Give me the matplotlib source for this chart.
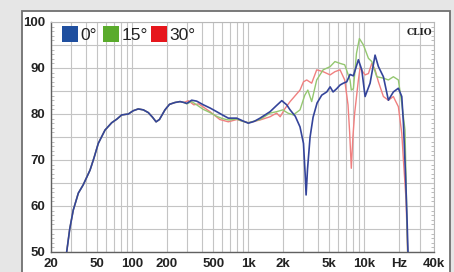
import numpy as np
import matplotlib.pyplot as plt
from matplotlib.patches import Rectangle
from matplotlib.ticker import MultipleLocator, FixedLocator, FuncFormatter

# shared low-frequency part (all three curves overlap)
low_f = [26, 27.3, 29, 31.1, 34.4, 37.9, 43.4, 47, 51.1, 58.4, 66.7, 74, 81.4,
         92.8, 102, 113, 125, 138, 150, 161, 172, 192, 210, 234, 259, 280]
low_db = [47, 50, 55, 59.1, 62.8, 64.6, 67.8, 70.5, 73.6, 76.5, 78.1, 78.9, 79.8,
          80.0, 80.7, 81.1, 80.9, 80.3, 79.3, 78.3, 78.8, 80.9, 82.1, 82.5, 82.7, 82.5]

blue_f = [296, 326, 360, 411, 470, 536, 600, 675, 798, 900, 1004, 1130, 1267, 1545,
          1750, 1950, 2150, 2300, 2550, 2800, 3000, 3100, 3160, 3250, 3420, 3630,
          3930, 4310, 4760, 5090, 5400, 5800, 6200, 6620, 7080, 7560, 8080, 8920,
          9540, 10190, 11250, 12420, 13270, 14650, 16180, 17860, 19720, 21100,
          21800, 22800, 23500, 24000]
blue_db = [82.3, 83.0, 82.8, 82.0, 81.3, 80.5, 79.8, 79.1, 79.1, 78.5, 78.0, 78.4, 79.1, 80.5,
           81.8, 82.9, 82.0, 80.9, 79.5, 77.2, 73.6, 67, 62.4, 68, 75, 79.3,
           82.4, 84.1, 84.8, 85.9, 84.8, 85.5, 86.3, 86.7, 87.0, 88.6, 88.3, 91.8,
           89.6, 83.8, 86.7, 92.8, 90.3, 88.1, 83.0, 84.8, 85.6, 83.8,
           78, 66, 56, 48]

green_f = [296, 326, 360, 411, 470, 536, 600, 675, 798, 900, 1004, 1267, 1545, 1760,
           1990, 2200, 2450, 2800, 3080, 3270, 3530, 3900, 4430, 5090, 5600, 6200,
           6800, 7560, 7750, 8080, 8590, 9100, 9860, 10890, 11640, 12850, 14650,
           16180, 17860, 19720, 21100, 22500, 23400, 23800]
green_db = [82.2, 82.7, 82.0, 81.0, 80.3, 79.5, 79.0, 78.7, 78.9, 78.4, 78.1, 78.8, 80.2, 80.5,
            80.9, 80.2, 79.8, 80.9, 84.1, 85.2, 82.7, 87.4, 89.6, 90.3, 91.4, 91.0,
            90.7, 87.4, 85.2, 85.5, 93.2, 96.4, 95.0, 92.1, 91.4, 88.1, 87.8,
            87.4, 88.1, 87.4, 82.3, 76.5, 56, 48]

red_f = [305, 340, 375, 470, 570, 675, 798, 1004, 1267, 1545, 1760, 1890, 2080, 2300,
         2450, 2800, 3000, 3200, 3530, 3900, 4430, 5090, 5600, 6200, 6800, 7260,
         7500, 7750, 8000, 8270, 8920, 9230, 10190, 10890, 11640, 12420, 13270,
         14650, 16180, 17860, 18490, 19720, 21100, 21800, 22970, 23640, 23800]
red_db = [82.9, 82.0, 82.2, 80.5, 78.8, 78.3, 78.8, 78.1, 78.7, 79.4, 80.2, 79.4, 81.2, 82.7,
          83.5, 85.2, 87.0, 87.4, 86.7, 89.6, 89.2, 88.5, 89.2, 89.6, 87.4, 82.0,
          76, 68.2, 75, 80, 87.4, 90.0, 88.5, 88.8, 91.0, 89.6, 87.0,
          83.8, 83.0, 83.8, 83.0, 81.6, 75.8, 70, 61.3, 51, 48]

x_ticks = [20, 50, 100, 200, 500, 1000, 2000, 5000, 10000, 20000, 40000]
x_labels = ["20", "50", "100", "200", "500", "1k", "2k", "5k", "10k", "Hz", "40k"]
legend_labels = ["0°", "15°", "30°"]
legend_colors = ["#1f4f9f", "#5aab2c", "#e6161c"]

plt.rcParams['font.family'] = ['Liberation Sans Narrow', 'Liberation Sans', 'DejaVu Sans']

W, H = 454, 272
fig = plt.figure(figsize=(W / 100, H / 100), dpi=100, facecolor="#e6e6e6")
# white panel with grey frame, behind the axes
fig.patches.append(Rectangle((22 / W, -0.1), 428 / W, 1.1 - 11 / H, transform=fig.transFigure,
                             facecolor="white", edgecolor="#707070", lw=1.3, zorder=-5))

ax = fig.add_axes([51 / W, 1 - 252 / H, 383 / W, 230 / H])
ax.set_facecolor("white")

ax.plot(np.array(low_f + red_f), low_db + red_db, color="#f08080", lw=1.0, zorder=3)
ax.plot(np.array(low_f + green_f), low_db + green_db, color="#94c770", lw=1.0, zorder=4)
ax.plot(np.array(low_f + blue_f), low_db + blue_db, color="#34449a", lw=1.2, zorder=5)

ax.set_xscale("log")
ax.set_xlim(20, 40000)
ax.set_ylim(50, 100)

grid_f = [m * 10 ** e for e in range(1, 5) for m in range(1, 10) if 20 <= m * 10 ** e <= 40000]
ax.xaxis.set_major_locator(FixedLocator(x_ticks))
ax.xaxis.set_minor_locator(FixedLocator(grid_f))
ax.set_xticklabels(x_labels)
ax.xaxis.set_minor_formatter(FuncFormatter(lambda v, p: ""))
ax.yaxis.set_major_locator(MultipleLocator(5))
ax.yaxis.set_minor_locator(MultipleLocator(1))
ax.yaxis.set_major_formatter(FuncFormatter(lambda v, p: "%d" % v if v % 10 == 0 else ""))

ax.grid(True, which="both", axis="x", color="#c4c4c4", lw=0.8)
ax.grid(True, which="major", axis="y", color="#c4c4c4", lw=0.8)
ax.tick_params(which="major", length=0, labelsize=9.5, pad=4)
ax.tick_params(axis="y", which="minor", direction="in", length=2, color="#b0b0b0",
               left=True, right=True)
ax.tick_params(axis="x", which="minor", length=0)
for lab in ax.get_xticklabels() + ax.get_yticklabels():
    lab.set_fontweight("bold")
    lab.set_color("#222222")

for s in ["left", "bottom"]:
    ax.spines[s].set_color("#606060")
    ax.spines[s].set_linewidth(1.0)
for s in ["top", "right"]:
    ax.spines[s].set_color("#b8b8b8")
    ax.spines[s].set_linewidth(0.8)

# legend as coloured squares
lx = [62, 103, 151]
for x0, lab, col in zip(lx, legend_labels, legend_colors):
    fig.patches.append(Rectangle((x0 / W, 1 - 42 / H), 16 / W, 16 / H, transform=fig.transFigure,
                                 facecolor=col, edgecolor="none", zorder=10))
    fig.text((x0 + 18.5) / W, 1 - 35 / H, lab, fontsize=12.5, va="center", ha="left",
             color="#222222", zorder=10)

ax.text(0.995, 0.975, "CLIO", transform=ax.transAxes, ha="right", va="top",
        fontsize=6.5, fontweight="bold", family="DejaVu Serif", color="#222222", zorder=6)

plt.savefig("out.png", dpi=100, facecolor=fig.get_facecolor())
plt.close()
